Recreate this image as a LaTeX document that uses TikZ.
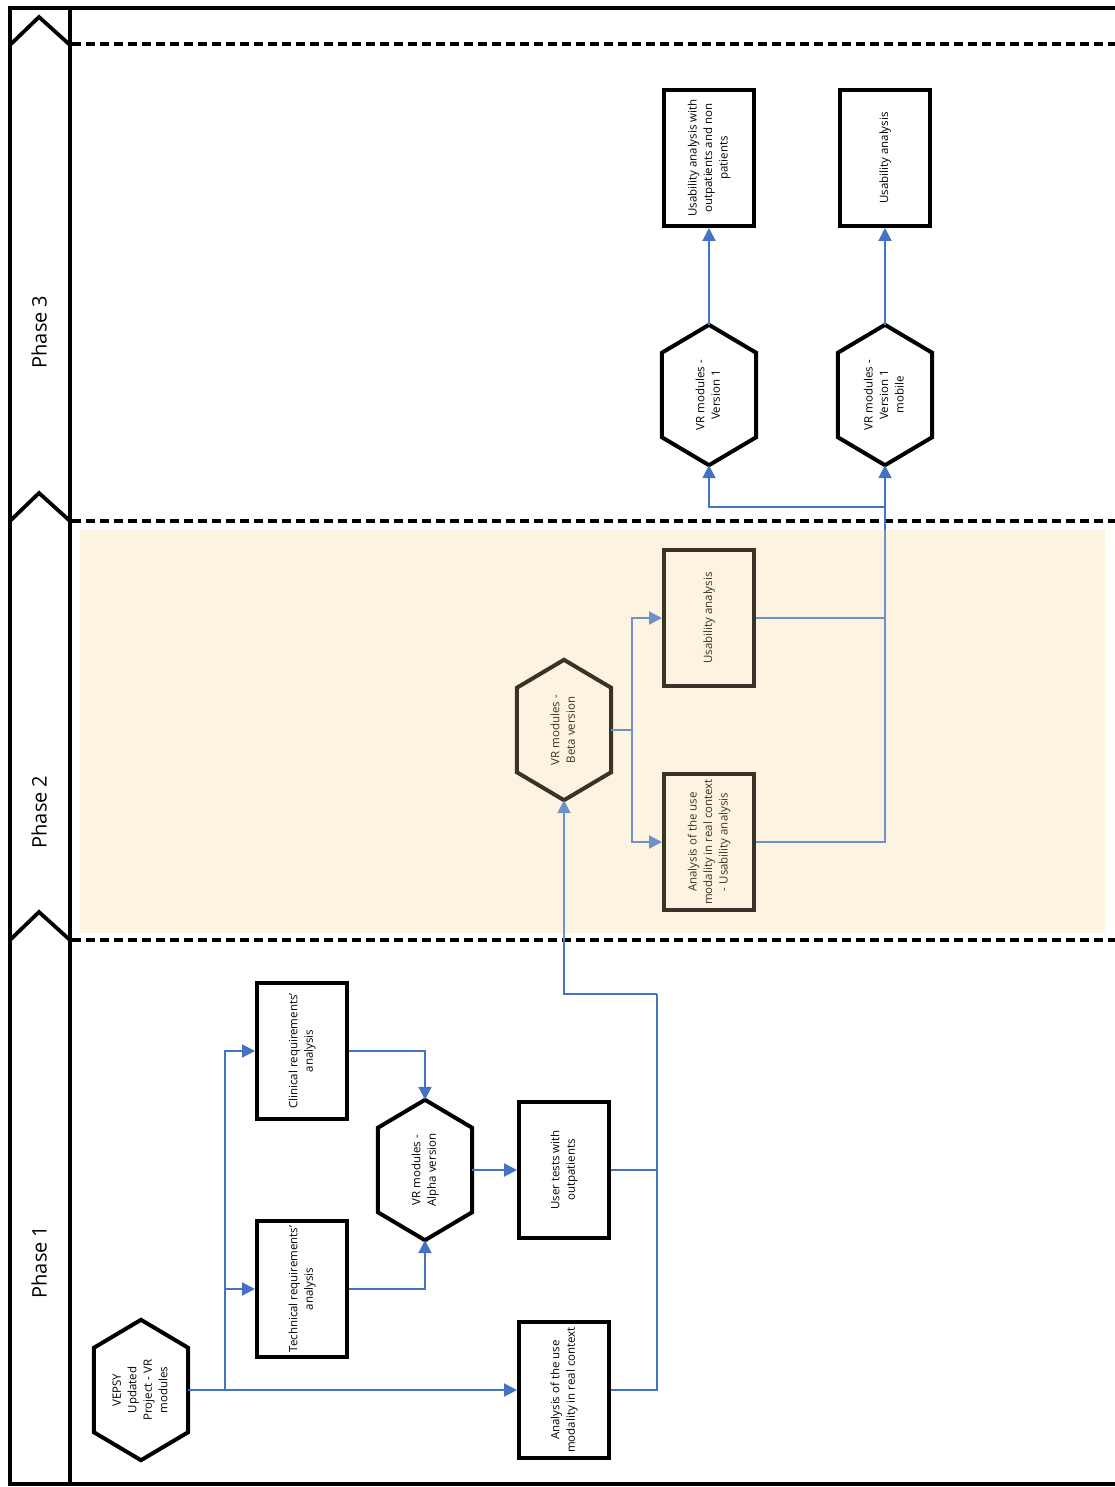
\documentclass[tikz,border=0pt]{standalone}
\usepackage{fontspec}
\setmainfont{Open Sans}
\usetikzlibrary{arrows.meta,calc}
\definecolor{flowblue}{HTML}{4472C4}
\definecolor{flowblueb}{HTML}{7090C8}
\definecolor{bandbeige}{HTML}{FCF3E1}
\definecolor{darkbrown}{HTML}{3A3226}
\newcommand\vtext[1]{\rotatebox{90}{\begin{tabular}{@{}c@{}}#1\end{tabular}}}
\newcommand\hexat[2]{\draw[line width=4pt, line join=miter, #2] (#1.north) -- ([yshift=-28pt]#1.north east) -- ([yshift=28pt]#1.south east) -- (#1.south) -- ([yshift=28pt]#1.south west) -- ([yshift=-28pt]#1.north west) -- cycle;}
\tikzset{
  framel/.style={line width=3.8pt, black},
  dashl/.style={line width=3.8pt, black, dash pattern=on 9pt off 5pt},
  box/.style={draw, line width=4pt, minimum width=90pt, minimum height=136pt, inner sep=0pt, font=\fontsize{11.5}{15.5}\selectfont},
  hexa/.style={minimum width=94pt, minimum height=140pt, inner sep=0pt, font=\fontsize{11.5}{15.5}\selectfont},
  phaselbl/.style={font=\fontsize{20}{22}\selectfont},
  wire/.style={line width=2pt, flowblue},
  flow/.style={wire, -{Triangle[length=13pt,width=13pt]}},
  wireb/.style={line width=2pt, flowblueb},
  flowb/.style={wireb, -{Triangle[length=13pt,width=13pt]}},
  p2/.style={draw=darkbrown, text=darkbrown},
}
\begin{document}
\begin{tikzpicture}[x=1pt,y=-1pt]
\useasboundingbox (0,0) rectangle (1115,1487);
% band
\fill[bandbeige] (80,530) rectangle (1105,933);
% frame
\draw[framel] (8,8) -- (1115,8);
\draw[framel] (8,1484) -- (1115,1484);
\draw[framel] (10,6) -- (10,1486);
\draw[framel] (70,6) -- (70,1486);
% chevrons
\draw[framel, line join=miter] (10,45) -- (39,17) -- (70,45);
\draw[framel, line join=miter] (10,521) -- (39,493) -- (70,521);
\draw[framel, line join=miter] (10,940) -- (39,912) -- (70,940);
% dashed separators
\draw[dashl] (72,44) -- (1115,44);
\draw[dashl] (72,521) -- (1115,521);
\draw[dashl] (72,940) -- (1115,940);
% phase labels
\node[phaselbl] (ph3) at (39,332) {\rotatebox{90}{Phase 3}};
\node[phaselbl] (ph2) at (39,812) {\rotatebox{90}{Phase 2}};
\node[phaselbl] (ph1) at (39,1262) {\rotatebox{90}{Phase 1}};

% Phase 1
\node[hexa] (vepsy) at (141,1390) {\vtext{VEPSY\\Updated\\Project - VR\\modules}};
\hexat{vepsy}{black}
\node[box] (tech) at (302,1289) {\vtext{Technical requirements'\\analysis}};
\node[box] (clin) at (302,1051) {\vtext{Clinical requirements'\\analysis}};
\node[hexa] (alpha) at (425,1170) {\vtext{VR modules -\\Alpha version}};
\hexat{alpha}{black}
\node[box] (user) at (564,1170) {\vtext{User tests with\\outpatients}};
\node[box] (ana1) at (564,1390) {\vtext{Analysis of the use\\modality in real context}};

% Phase 2
\node[hexa, text=darkbrown] (beta) at (564,730) {\vtext{VR modules -\\Beta version}};
\hexat{beta}{darkbrown}
\node[box, p2] (usa2) at (709,618) {\vtext{Usability analysis}};
\node[box, p2] (ana2) at (709,842) {\vtext{Analysis of the use\\modality in real context\\- Usability analysis}};

% Phase 3
\node[hexa] (v1) at (709,395) {\vtext{VR modules -\\Version 1}};
\hexat{v1}{black}
\node[hexa] (v1m) at (885,395) {\vtext{VR modules -\\Version 1\\mobile}};
\hexat{v1m}{black}
\node[box] (usa3a) at (709,158) {\vtext{Usability analysis with\\outpatients and non\\patients}};
\node[box] (usa3b) at (885,158) {\vtext{Usability analysis}};

% junctions
\coordinate (j1) at (225,1390);
\coordinate (j2) at (657,994);
\coordinate (j3) at (632,730);
\coordinate (j4) at (885,507);
\coordinate (j5) at (885,530);

% connectors phase 1
\draw[flow] (vepsy.east) -- (ana1.west);
\draw[flow] (j1) |- (tech.west);
\draw[flow] (j1) |- (clin.west);
\draw[flow] (clin.east) -| (alpha.north);
\draw[flow] (tech.east) -| (alpha.south);
\draw[flow] (alpha.east) -- (user.west);
\draw[wire] (user.east) -| (j2);
\draw[wire] (ana1.east) -| (j2);
\draw[wire] (j2) -| ($(beta.south)+(0,140)$);
\draw[flowb] ($(beta.south)+(0,140)$) -- (beta.south);

% connectors phase 2
\draw[wireb] (beta.east) -- (j3);
\draw[flowb] (j3) |- (usa2.west);
\draw[flowb] (j3) |- (ana2.west);
\draw[wireb] (usa2.east) -- (usa2.east -| j5);
\draw[wireb] (ana2.east) -| (j5);

% connectors phase 3
\draw[wire] (j5) -- (j4);
\draw[flow] (j4) -- (v1m.south);
\draw[flow] (j4) -| (v1.south);
\draw[flow] (v1.north) -- (usa3a.south);
\draw[flow] (v1m.north) -- (usa3b.south);
\end{tikzpicture}
\end{document}
